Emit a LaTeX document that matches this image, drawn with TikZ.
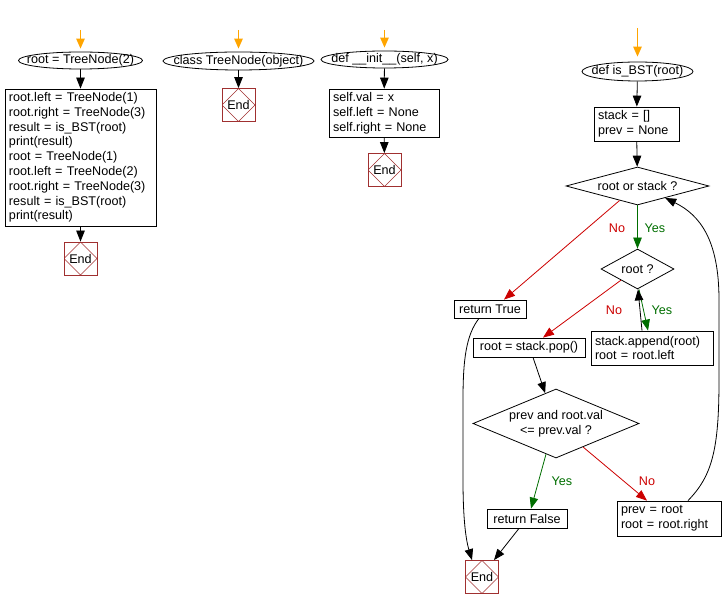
\documentclass[tikz,border=0pt]{standalone}
\usepackage{fontspec}
\setmainfont{Liberation Sans}
\usetikzlibrary{shapes.geometric,arrows.meta,calc}
\definecolor{endred}{RGB}{160,48,48}
\definecolor{nored}{RGB}{204,0,0}
\definecolor{yesgreen}{RGB}{0,110,0}
\definecolor{startorange}{RGB}{255,165,0}
\begin{document}
\begin{tikzpicture}[x=1pt,y=-1pt,
  every node/.style={font=\fontsize{12.6}{14.8}\selectfont, inner sep=0pt},
  proc/.style={draw, line width=0.8pt, rectangle, align=left, inner xsep=4pt},
  procc/.style={draw, line width=0.8pt, rectangle, align=center},
  term/.style={draw, ellipse, line width=0.8pt, inner sep=0pt},
  dia/.style={draw, diamond, line width=0.8pt, inner sep=0pt, align=center},
  endnode/.style={draw=endred, line width=0.8pt, minimum size=33pt,
    path picture={\draw[endred, line width=0.6pt] (path picture bounding box.north) -- (path picture bounding box.east) -- (path picture bounding box.south) -- (path picture bounding box.west) -- cycle;}},
  arr/.style={-{Triangle[length=11pt,width=8.5pt]}, line width=0.8pt},
  noline/.style={arr, draw=nored},
  yesline/.style={arr, draw=yesgreen},
  startline/.style={-{Triangle[length=10pt,width=8.5pt]}, line width=1.2pt, draw=startorange, shorten >=3pt},
  nolab/.style={text=nored},
  yeslab/.style={text=yesgreen}
]
\useasboundingbox (0,0) rectangle (728,609);

% column 1
\coordinate (s1) at (80.5,30);
\node[term, minimum width=124pt, minimum height=17pt] (e1) at (80.5,60.5) {\makebox[0pt]{root = TreeNode(2)}};
\node[proc, text width=143pt, minimum height=137pt] (b1) at (80.5,157.5) {root.left = TreeNode(1)\\root.right = TreeNode(3)\\result = is\_BST(root)\\print(result)\\root = TreeNode(1)\\root.left = TreeNode(2)\\root.right = TreeNode(3)\\result = is\_BST(root)\\print(result)};
\node[endnode] (end1) at (80.5,258.5) {End};
\draw[startline] (s1) -- (e1);
\draw[arr] (e1) -- (b1);
\draw[arr] (b1) -- (end1);

% column 2
\coordinate (s2) at (238.5,30);
\node[term, minimum width=151pt, minimum height=18pt] (e2) at (238.5,61) {\makebox[0pt]{class TreeNode(object)}};
\node[endnode] (end2) at (238.5,105) {End};
\draw[startline] (s2) -- (e2);
\draw[arr] (e2) -- (end2);

% column 3
\coordinate (s3) at (384.5,30);
\node[term, minimum width=127pt, minimum height=17pt] (e3) at (384.5,59.5) {\makebox[0pt]{def \_\_init\_\_(self, x)}};
\node[proc, text width=102pt, minimum height=48pt] (b3) at (384,113) {self.val = x\\self.left = None\\self.right = None};
\node[endnode] (end3) at (384.5,170) {End};
\draw[startline] (s3) -- (e3);
\draw[arr] (e3) -- (b3);
\draw[arr] (b3) -- (end3);

% column 4
\coordinate (s4) at (637.5,28);
\node[term, minimum width=111pt, minimum height=19pt] (e4) at (637.5,71.5) {\makebox[0pt]{def is\_BST(root)}};
\node[proc, text width=77pt, minimum height=34pt] (b4) at (636.5,124) {stack = []\\prev = None};
\node[dia, aspect=3.76, minimum width=143pt, minimum height=38pt] (d1) at (637.5,186) {root or stack ?};
\node[dia, aspect=1.83, minimum width=73pt, minimum height=40pt] (d2) at (637.5,269) {root ?};
\node[procc, minimum width=72pt, minimum height=18pt] (rtrue) at (490,309) {return True};
\node[procc, minimum width=112pt, minimum height=19pt] (pop) at (529,347.5) {root = stack.pop()};
\node[proc, text width=114pt, minimum height=34pt] (app) at (652,348) {stack.append(root)\\root = root.left};
\node[dia, aspect=2.4, minimum width=166pt, minimum height=69pt] (d3) at (556,423.5) {prev and root.val\\<= prev.val ?};
\node[procc, minimum width=80pt, minimum height=19pt] (rfalse) at (527,518.5) {return False};
\node[proc, text width=96pt, minimum height=35pt] (pbox) at (669,518.5) {prev = root\\root = root.right};
\node[endnode] (end4) at (482,577) {End};

\draw[startline, shorten >=5pt] (s4) -- (e4);
\draw[arr] (e4) -- (b4);
\draw[arr] (b4) -- (d1);
\draw[yesline] (d1) -- (d2);
\draw[noline] ($(d1.south)!0.25!(d1.west)$) -- ($(rtrue.north)+(14,0)$);
\draw[noline] ($(d2.south)!0.45!(d2.west)$) -- ($(pop.north)+(14,0)$);
\draw[yesline] ($(d2.south)+(1.5,0)$) -- ($(app.north)+(-4,0)$);
\draw[arr] ($(app.north)+(-10,0)$) -- ($(d2.south)+(0.5,0)$);
\draw[arr] ($(pop.south)+(4,0)$) -- ($(d3.north)!0.13!(d3.west)$);
\draw[yesline] ($(d3.south)!0.12!(d3.west)$) -- ($(rfalse.north)+(4,0)$);
\draw[noline] ($(d3.south)!0.325!(d3.east)$) -- ($(pbox.north)+(-22,0)$);
\draw[arr] ($(pbox.north)+(19,0)$) .. controls (712,476) and (719,450) .. (719,380) -- (719,300) .. controls (719,240) and (700,215) .. ($(d1.south)!0.385!(d1.east)$);
\draw[arr] ($(rtrue.south)+(-11,0)$) .. controls (466,335) and (463,360) .. (463,400) -- (463,480) .. controls (463,520) and (466,540) .. ($(end4.north)+(-10,0)$);
\draw[arr] ($(rfalse.south)+(-8,0)$) -- ($(end4.north)+(12,0)$);

\node[nolab] (l1) at (617,228) {No};
\node[yeslab] (l2) at (655,228) {Yes};
\node[nolab] (l3) at (614,310) {No};
\node[yeslab] (l4) at (662,310) {Yes};
\node[yeslab] (l5) at (562,481) {Yes};
\node[nolab] (l6) at (647,481) {No};
\end{tikzpicture}
\end{document}
